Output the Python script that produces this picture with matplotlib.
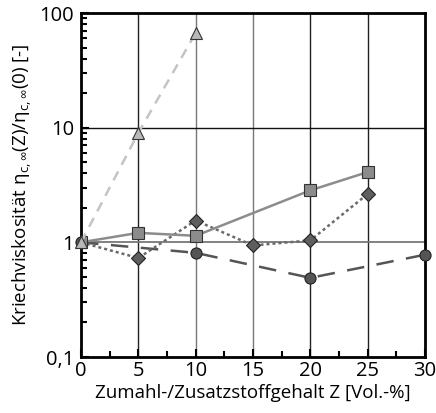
import matplotlib
matplotlib.use("Agg")
import matplotlib.pyplot as plt
from matplotlib.ticker import FixedLocator, LogLocator, NullFormatter

plt.rcParams["font.family"] = ["Open Sans", "DejaVu Sans"]
plt.rcParams["mathtext.fontset"] = "custom"
plt.rcParams["mathtext.rm"] = "Open Sans"
plt.rcParams["mathtext.it"] = "Open Sans"

# data
sq_x = [0, 5, 10, 20, 25]
sq_y = [1.0, 1.21, 1.14, 2.84, 4.1]
dia_x = [0, 5, 10, 15, 20, 25]
dia_y = [1.0, 0.73, 1.55, 0.94, 1.04, 2.64]
circ_x = [0, 10, 20, 30]
circ_y = [1.0, 0.81, 0.49, 0.78]
tri_x = [0, 5, 10]
tri_y = [1.0, 9.0, 67.0]

fig = plt.figure(figsize=(4.36, 4.13), dpi=100)
ax = fig.add_axes([81 / 436, 1 - 357 / 413, 344 / 436, 344 / 413])

# grid
for xv in [5, 10, 15, 20, 25]:
    ax.axvline(xv, color="#222222" if xv in (5, 20, 25) else "#777777", lw=1.0, zorder=1)
ax.axhline(10, color="#111111", lw=1.0, zorder=1)
ax.axhline(1, color="#777777", lw=1.3, zorder=1)

ax.plot(circ_x, circ_y, color="#555555", lw=1.8, ls=(0, (7, 5)), marker="o", ms=8,
        mfc="#555555", mec="#222222", mew=0.8, zorder=3, clip_on=False)
ax.plot(dia_x, dia_y, color="#6a6a6a", lw=1.8, ls=(0, (1.2, 1.2)), marker="D", ms=7.5,
        mfc="#5e5e5e", mec="#222222", mew=0.8, zorder=4)
ax.plot(sq_x, sq_y, color="#8c8c8c", lw=1.8, ls="-", marker="s", ms=8,
        mfc="#8c8c8c", mec="#333333", mew=0.8, zorder=4)
ax.plot(tri_x, tri_y, color="#c4c4c4", lw=1.8, ls=(0, (4, 3)), marker="^", ms=9,
        mfc="#b8b8b8", mec="#333333", mew=0.8, zorder=5, clip_on=False)

ax.set_yscale("log")
ax.set_xlim(0, 30)
ax.set_ylim(0.1, 100)
ax.set_xticks([0, 5, 10, 15, 20, 25, 30])
ax.xaxis.set_minor_locator(FixedLocator([2.5, 7.5, 12.5, 17.5, 22.5, 27.5]))
ax.set_yticks([0.1, 1, 10, 100])
ax.set_yticklabels(["0,1", "1", "10", "100"])
ax.yaxis.set_minor_locator(LogLocator(base=10, subs=range(2, 10)))
ax.yaxis.set_minor_formatter(NullFormatter())
ax.tick_params(which="both", direction="in", top=False, right=False, labelsize=14.5,
               width=1.5, color="black")
ax.tick_params(which="major", length=6)
ax.tick_params(axis="x", which="major", pad=3)
ax.tick_params(axis="y", which="major", pad=5)
ax.tick_params(which="minor", length=4)
for s in ax.spines.values():
    s.set_linewidth(2)

ax.set_xlabel("Zumahl-/Zusatzstoffgehalt Z [Vol.-%]", fontsize=13.5, labelpad=2)
ax.set_ylabel("Kriechviskosität η$_{c,\\infty}$(Z)/η$_{c,\\infty}$(0) [-]", fontsize=13.5, labelpad=4)

fig.savefig("out.png", dpi=100)
